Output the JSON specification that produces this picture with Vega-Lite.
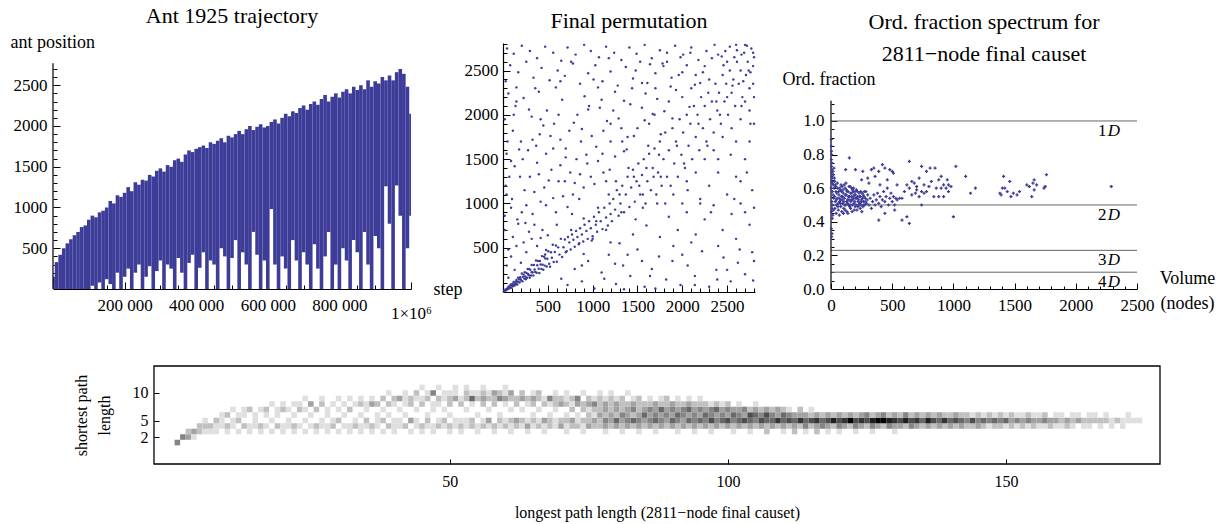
{
"$schema":"https://vega.github.io/schema/vega-lite/v6.json",
"background":"white",
"padding":{"left":10,"top":5,"right":5,"bottom":2},
"config":{
 "font":"Liberation Serif",
 "view":{"stroke":null},
 "axis":{"labelFont":"Liberation Serif","titleFont":"Liberation Serif","labelFontSize":17,"titleFontSize":18,"titleFontWeight":"normal","labelColor":"#000","titleColor":"#000","domainColor":"#000","tickColor":"#000","grid":false,"domainWidth":1.2,"tickWidth":1,"labelOverlap":false,"labelFlush":false,"labelAngle":0},
 "title":{"font":"Liberation Serif","fontSize":22,"fontWeight":"normal","color":"#000"},
 "text":{"font":"Liberation Serif"}
},
"spacing":44,
"vconcat":[
{"spacing":26,"hconcat":[
 {"spacing":2,"hconcat":[
  {
   "title":{"text":"Ant 1925 trajectory","frame":"group","offset":5,"baseline":"top"},
   "width":358,"height":246,
   "encoding":{
     "x":{"field":"s","type":"quantitative","scale":{"domain":[0,1000000],"nice":false},
      "axis":{"values":[50000,100000,150000,200000,250000,300000,350000,400000,450000,500000,550000,600000,650000,700000,750000,800000,850000,900000,950000,1000000],
       "labelOverlap":false,
       "labelExpr":"datum.value % 200000 === 0 ? (datum.value === 1000000 ? '1×10⁶' : replace(format(datum.value, ','), ',', ' ')) : ''",
       "tickSize":{"condition":{"test":"datum.value % 200000 === 0","value":-7},"value":-4},
       "labelPadding":{"condition":{"test":"datum.value === 1000000","value":23},"value":15},
       "title":"step","titleAngle":0,"titleAlign":"left","titleBaseline":"alphabetic","titleX":380,"titleY":5}},
     "y":{"field":"lo","type":"quantitative","scale":{"domain":[0,3018],"nice":false},
      "axis":{"values":[100,200,300,400,500,600,700,800,900,1000,1100,1200,1300,1400,1500,1600,1700,1800,1900,2000,2100,2200,2300,2400,2500,2600,2700],
       "labelOverlap":false,"domain":false,
       "labelExpr":"datum.value % 500 === 0 ? format(datum.value, 'd') : ''",
       "tickSize":{"condition":{"test":"datum.value % 500 === 0","value":-7},"value":-4},
       "labelPadding":13,
       "title":"ant position","titleAngle":0,"titleAlign":"left","titleBaseline":"alphabetic","titleX":-43,"titleY":4}},
     "y2":{"field":"hi"}
   },
   "layer":[
   {"data":{"values":[
{"s":0,"lo":0,"hi":150},{"s":10000,"lo":0,"hi":330},{"s":20000,"lo":0,"hi":420},{"s":30000,"lo":0,"hi":500},{"s":40000,"lo":0,"hi":560},{"s":50000,"lo":0,"hi":610},{"s":60000,"lo":0,"hi":660},{"s":70000,"lo":0,"hi":700},{"s":80000,"lo":0,"hi":760},{"s":90000,"lo":0,"hi":780},
{"s":100000,"lo":0,"hi":850},{"s":110000,"lo":40,"hi":900},{"s":120000,"lo":0,"hi":880},{"s":130000,"lo":80,"hi":940},{"s":140000,"lo":0,"hi":960},{"s":150000,"lo":120,"hi":1000},{"s":160000,"lo":60,"hi":1080},{"s":170000,"lo":0,"hi":1050},{"s":180000,"lo":200,"hi":1150},{"s":190000,"lo":0,"hi":1130},
{"s":200000,"lo":150,"hi":1180},{"s":210000,"lo":250,"hi":1250},{"s":220000,"lo":0,"hi":1200},{"s":230000,"lo":200,"hi":1310},{"s":240000,"lo":300,"hi":1280},{"s":250000,"lo":0,"hi":1340},{"s":260000,"lo":150,"hi":1330},{"s":270000,"lo":280,"hi":1400},{"s":280000,"lo":0,"hi":1380},{"s":290000,"lo":220,"hi":1450},
{"s":300000,"lo":350,"hi":1480},{"s":310000,"lo":0,"hi":1440},{"s":320000,"lo":300,"hi":1520},{"s":330000,"lo":250,"hi":1500},{"s":340000,"lo":0,"hi":1580},{"s":350000,"lo":380,"hi":1600},{"s":360000,"lo":200,"hi":1560},{"s":370000,"lo":0,"hi":1650},{"s":380000,"lo":320,"hi":1700},{"s":390000,"lo":420,"hi":1680},
{"s":400000,"lo":0,"hi":1720},{"s":410000,"lo":260,"hi":1740},{"s":420000,"lo":450,"hi":1760},{"s":430000,"lo":0,"hi":1730},{"s":440000,"lo":350,"hi":1800},{"s":450000,"lo":300,"hi":1780},{"s":460000,"lo":0,"hi":1820},{"s":470000,"lo":500,"hi":1850},{"s":480000,"lo":400,"hi":1800},{"s":490000,"lo":0,"hi":1880},
{"s":500000,"lo":380,"hi":1860},{"s":510000,"lo":600,"hi":1900},{"s":520000,"lo":0,"hi":1940},{"s":530000,"lo":450,"hi":1900},{"s":540000,"lo":300,"hi":1960},{"s":550000,"lo":0,"hi":2000},{"s":560000,"lo":700,"hi":1950},{"s":570000,"lo":420,"hi":1990},{"s":580000,"lo":0,"hi":2020},{"s":590000,"lo":350,"hi":1980},
{"s":600000,"lo":0,"hi":2000},{"s":610000,"lo":980,"hi":2050},{"s":620000,"lo":300,"hi":2080},{"s":630000,"lo":0,"hi":2030},{"s":640000,"lo":400,"hi":2100},{"s":650000,"lo":250,"hi":2150},{"s":660000,"lo":0,"hi":2120},{"s":670000,"lo":600,"hi":2180},{"s":680000,"lo":350,"hi":2160},{"s":690000,"lo":0,"hi":2220},
{"s":700000,"lo":450,"hi":2250},{"s":710000,"lo":300,"hi":2200},{"s":720000,"lo":0,"hi":2270},{"s":730000,"lo":550,"hi":2300},{"s":740000,"lo":250,"hi":2260},{"s":750000,"lo":0,"hi":2330},{"s":760000,"lo":400,"hi":2380},{"s":770000,"lo":700,"hi":2300},{"s":780000,"lo":0,"hi":2360},{"s":790000,"lo":300,"hi":2400},
{"s":800000,"lo":0,"hi":2350},{"s":810000,"lo":500,"hi":2420},{"s":820000,"lo":350,"hi":2450},{"s":830000,"lo":0,"hi":2400},{"s":840000,"lo":600,"hi":2480},{"s":850000,"lo":450,"hi":2440},{"s":860000,"lo":0,"hi":2500},{"s":870000,"lo":700,"hi":2450},{"s":880000,"lo":300,"hi":2560},{"s":890000,"lo":0,"hi":2480},
{"s":900000,"lo":650,"hi":2550},{"s":910000,"lo":500,"hi":2520},{"s":920000,"lo":0,"hi":2600},{"s":930000,"lo":1260,"hi":2560},{"s":940000,"lo":800,"hi":2620},{"s":950000,"lo":0,"hi":2560},{"s":960000,"lo":1270,"hi":2660},{"s":970000,"lo":900,"hi":2700},{"s":980000,"lo":0,"hi":2640},{"s":990000,"lo":500,"hi":2480},
{"s":1000000,"lo":900,"hi":2150}
    ]},
    "mark":{"type":"rule","color":"#3d3d99","strokeWidth":3.6,"clip":true}},
   {"data":{"values":[{"s":0,"lo":0,"hi":2770}]},
    "mark":{"type":"rule","color":"#000","strokeWidth":1.2}}
   ]
  },
  {
   "title":{"text":"Final permutation","frame":"group","offset":2,"baseline":"top"},
   "width":252,"height":249,
   "data":{"values":[
{"x":45,"y":2750},{"x":120,"y":2690},{"x":210,"y":2780},{"x":300,"y":2720},{"x":380,"y":2640},{"x":470,"y":2770},{"x":560,"y":2700},{"x":650,"y":2610},{"x":720,"y":2760},{"x":810,"y":2680},{"x":905,"y":2790},{"x":980,"y":2720},{"x":1070,"y":2650},{"x":1150,"y":2770},{"x":1240,"y":2700},{"x":1320,"y":2620},{"x":1410,"y":2760},{"x":1490,"y":2690},{"x":1580,"y":2790},{"x":1660,"y":2640},{"x":1750,"y":2730},{"x":1830,"y":2600},{"x":1920,"y":2780},{"x":2010,"y":2680},{"x":2100,"y":2760},{"x":2180,"y":2620},{"x":2270,"y":2720},{"x":2360,"y":2790},{"x":2440,"y":2660},{"x":80,"y":2560},{"x":170,"y":2480},{"x":260,"y":2600},{"x":340,"y":2420},{"x":430,"y":2530},{"x":520,"y":2390},{"x":610,"y":2500},{"x":690,"y":2440},{"x":780,"y":2580},{"x":860,"y":2350},{"x":950,"y":2470},{"x":1030,"y":2560},{"x":1110,"y":2380},{"x":1200,"y":2490},{"x":1280,"y":2330},{"x":1370,"y":2540},{"x":1450,"y":2410},{"x":1530,"y":2600},{"x":1610,"y":2360},{"x":1700,"y":2470},{"x":1790,"y":2550},{"x":1870,"y":2320},{"x":1960,"y":2450},{"x":2050,"y":2560},{"x":2140,"y":2340},{"x":2230,"y":2480},{"x":30,"y":2380},{"x":150,"y":2310},{"x":590,"y":2310},{"x":1060,"y":2310},{"x":1640,"y":2570},
{"x":60,"y":2240},{"x":140,"y":2100},{"x":230,"y":2190},{"x":320,"y":1980},{"x":400,"y":2260},{"x":490,"y":2050},{"x":570,"y":1900},{"x":660,"y":2170},{"x":740,"y":1820},{"x":830,"y":2000},{"x":910,"y":2210},{"x":990,"y":1760},{"x":1080,"y":2080},{"x":1160,"y":1930},{"x":1250,"y":2260},{"x":1330,"y":1700},{"x":1420,"y":2120},{"x":1500,"y":1850},{"x":1590,"y":2240},{"x":1670,"y":2010},{"x":1760,"y":1780},{"x":1850,"y":2150},{"x":1930,"y":2280},{"x":20,"y":1950},{"x":110,"y":1820},{"x":200,"y":1700},{"x":290,"y":2060},{"x":370,"y":1650},{"x":450,"y":1880},{"x":530,"y":1760},{"x":620,"y":2000},{"x":700,"y":1620},{"x":790,"y":1910},{"x":870,"y":1700},{"x":950,"y":2060},{"x":1040,"y":1640},{"x":1120,"y":1820},{"x":1200,"y":1700},{"x":1290,"y":1960},{"x":1380,"y":1610},{"x":1460,"y":1760},{"x":1550,"y":2080},{"x":1630,"y":1900},{"x":1720,"y":2180},{"x":1800,"y":2040},{"x":1890,"y":1960},{"x":2000,"y":2200},{"x":2080,"y":2090},{"x":50,"y":1700},{"x":180,"y":1610},{"x":410,"y":1780},{"x":640,"y":1720},{"x":880,"y":1840},{"x":1100,"y":2170},{"x":1320,"y":1850},
{"x":40,"y":1560},{"x":130,"y":1420},{"x":220,"y":1500},{"x":300,"y":1300},{"x":380,"y":1460},{"x":460,"y":1180},{"x":540,"y":1380},{"x":620,"y":1250},{"x":700,"y":1520},{"x":780,"y":1100},{"x":860,"y":1330},{"x":940,"y":1450},{"x":1020,"y":1220},{"x":1110,"y":1560},{"x":1190,"y":1380},{"x":30,"y":1200},{"x":100,"y":1050},{"x":190,"y":1300},{"x":260,"y":980},{"x":350,"y":1130},{"x":420,"y":1020},{"x":510,"y":1260},{"x":590,"y":900},{"x":670,"y":1080},{"x":750,"y":1350},{"x":820,"y":1500},{"x":900,"y":1180},{"x":980,"y":1300},{"x":1060,"y":1480},{"x":20,"y":860},{"x":90,"y":950},{"x":160,"y":820},{"x":240,"y":1150},{"x":330,"y":880},{"x":400,"y":1330},{"x":480,"y":1560},{"x":560,"y":1060},{"x":640,"y":1430},{"x":720,"y":960},{"x":800,"y":1230},{"x":1150,"y":1250},{"x":1250,"y":1530},{"x":1350,"y":1590},{"x":70,"y":1300},{"x":280,"y":1600},
{"x":20,"y":700},{"x":60,"y":480},{"x":110,"y":620},{"x":170,"y":770},{"x":230,"y":560},{"x":290,"y":680},{"x":350,"y":760},{"x":40,"y":300},{"x":90,"y":400},{"x":150,"y":520},{"x":200,"y":330},{"x":260,"y":450},{"x":320,"y":600},{"x":380,"y":520},{"x":440,"y":700},{"x":500,"y":640},{"x":130,"y":250},{"x":60,"y":160},{"x":250,"y":780},{"x":420,"y":610},
{"x":650,"y":150},{"x":720,"y":80},{"x":800,"y":260},{"x":880,"y":120},{"x":950,"y":350},{"x":1020,"y":40},{"x":1100,"y":220},{"x":1180,"y":420},{"x":1260,"y":90},{"x":1340,"y":300},{"x":1420,"y":180},{"x":1500,"y":480},{"x":1580,"y":60},{"x":1660,"y":260},{"x":1740,"y":400},{"x":1820,"y":140},{"x":1900,"y":520},{"x":1980,"y":80},{"x":2060,"y":300},{"x":2140,"y":180},{"x":2220,"y":460},{"x":2300,"y":60},{"x":2380,"y":250},{"x":2460,"y":390},{"x":2540,"y":120},{"x":2620,"y":330},{"x":2700,"y":200},{"x":2780,"y":450},{"x":1000,"y":600},{"x":1150,"y":700},{"x":1300,"y":550},{"x":1450,"y":650},{"x":1600,"y":750},{"x":1750,"y":620},{"x":1850,"y":850},{"x":1950,"y":700},{"x":2050,"y":900},{"x":2150,"y":650},{"x":2250,"y":820},{"x":2350,"y":980},{"x":2450,"y":700},{"x":2550,"y":880},{"x":2650,"y":1000},{"x":2750,"y":760},{"x":1700,"y":40},{"x":2000,"y":420},{"x":2400,"y":520},{"x":2600,"y":600},{"x":2800,"y":350},{"x":900,"y":430},{"x":1250,"y":320},{"x":1550,"y":350},{"x":2100,"y":560},{"x":2700,"y":900},{"x":2500,"y":1100},{"x":2300,"y":1200},{"x":2600,"y":1300},{"x":2780,"y":1150},{"x":2200,"y":1050},{"x":2400,"y":1350},{"x":2700,"y":1500},{"x":2750,"y":1700},{"x":2650,"y":1250},{"x":2000,"y":1000},{"x":1900,"y":1100},{"x":2200,"y":1000},{"x":2800,"y":950},{"x":2500,"y":250},{"x":1350,"y":30},{"x":850,"y":550},
{"x":10,"y":9},{"x":18,"y":11},{"x":25,"y":20},{"x":30,"y":28},{"x":38,"y":21},{"x":45,"y":32},{"x":50,"y":42},{"x":58,"y":36},{"x":62,"y":62},{"x":70,"y":41},{"x":75,"y":60},{"x":80,"y":54},{"x":88,"y":81},{"x":95,"y":49},{"x":100,"y":74},{"x":105,"y":92},{"x":112,"y":67},{"x":118,"y":114},{"x":125,"y":88},{"x":130,"y":73},{"x":138,"y":115},{"x":142,"y":92},{"x":150,"y":135},{"x":155,"y":116},{"x":160,"y":85},{"x":168,"y":160},{"x":172,"y":117},{"x":180,"y":144},{"x":185,"y":107},{"x":192,"y":167},{"x":198,"y":143},{"x":205,"y":127},{"x":210,"y":208},{"x":218,"y":120},{"x":222,"y":171},{"x":230,"y":196},{"x":238,"y":152},{"x":242,"y":223},{"x":250,"y":175},{"x":255,"y":145},{"x":262,"y":215},{"x":268,"y":161},{"x":275,"y":259},{"x":280,"y":204},{"x":288,"y":190},{"x":292,"y":260},{"x":298,"y":161},{"x":35,"y":27},{"x":85,"y":82},{"x":145,"y":88},
{"x":305,"y":250},{"x":312,"y":187},{"x":320,"y":304},{"x":330,"y":224},{"x":338,"y":186},{"x":345,"y":304},{"x":352,"y":253},{"x":360,"y":227},{"x":368,"y":357},{"x":375,"y":218},{"x":382,"y":302},{"x":390,"y":351},{"x":398,"y":263},{"x":405,"y":215},{"x":412,"y":350},{"x":420,"y":311},{"x":428,"y":261},{"x":435,"y":405},{"x":442,"y":309},{"x":450,"y":252},{"x":458,"y":398},{"x":465,"y":298},{"x":472,"y":378},{"x":480,"y":475},{"x":488,"y":288},{"x":495,"y":376},{"x":505,"y":460},{"x":515,"y":319},{"x":525,"y":284},{"x":535,"y":449},{"x":545,"y":387},{"x":555,"y":533},{"x":565,"y":339},{"x":578,"y":451},{"x":590,"y":525},{"x":600,"y":342},{"x":615,"y":504},{"x":630,"y":422},{"x":645,"y":600},{"x":660,"y":396},{"x":675,"y":506},{"x":690,"y":593},{"x":700,"y":448},{"x":320,"y":224},{"x":470,"y":423},
{"x":710,"y":460},{"x":725,"y":620},{"x":740,"y":560},{"x":755,"y":480},{"x":770,"y":650},{"x":785,"y":590},{"x":800,"y":510},{"x":815,"y":690},{"x":830,"y":620},{"x":845,"y":540},{"x":860,"y":720},{"x":880,"y":650},{"x":895,"y":570},{"x":910,"y":760},{"x":930,"y":690},{"x":945,"y":600},{"x":960,"y":800},{"x":980,"y":720},{"x":1000,"y":630},{"x":1015,"y":850},{"x":1035,"y":760},{"x":1050,"y":680},{"x":1070,"y":900},{"x":1090,"y":800},{"x":1110,"y":710},{"x":1130,"y":950},{"x":1150,"y":840},{"x":1170,"y":750},{"x":1190,"y":1000},{"x":1200,"y":880},{"x":760,"y":700},{"x":900,"y":830},{"x":1060,"y":950},{"x":1180,"y":1100},{"x":990,"y":580},
{"x":1215,"y":800},{"x":1230,"y":1050},{"x":1250,"y":930},{"x":1270,"y":1150},{"x":1290,"y":860},{"x":1310,"y":1000},{"x":1330,"y":1200},{"x":1350,"y":900},{"x":1370,"y":1100},{"x":1390,"y":1300},{"x":1410,"y":960},{"x":1430,"y":1180},{"x":1450,"y":1380},{"x":1470,"y":1020},{"x":1490,"y":1250},{"x":1510,"y":1450},{"x":1530,"y":1100},{"x":1550,"y":1320},{"x":1570,"y":1500},{"x":1590,"y":1000},{"x":1610,"y":1250},{"x":1630,"y":1560},{"x":1650,"y":1150},{"x":1670,"y":1400},{"x":1690,"y":1620},{"x":1710,"y":1100},{"x":1730,"y":1350},{"x":1750,"y":1700},{"x":1770,"y":1200},{"x":1790,"y":1500},{"x":1260,"y":1250},{"x":1400,"y":1400},{"x":1520,"y":1200},{"x":1600,"y":1400},{"x":1680,"y":1300},{"x":1740,"y":1550},{"x":1300,"y":1100},{"x":1460,"y":1300},{"x":1560,"y":950},{"x":1720,"y":1000},
{"x":1810,"y":1800},{"x":1830,"y":1300},{"x":1850,"y":1600},{"x":1870,"y":1200},{"x":1890,"y":1850},{"x":1910,"y":1450},{"x":1930,"y":1700},{"x":1950,"y":1300},{"x":1970,"y":1950},{"x":1990,"y":1550},{"x":2010,"y":1800},{"x":2030,"y":1400},{"x":2050,"y":2000},{"x":2070,"y":1650},{"x":2090,"y":1900},{"x":2110,"y":1500},{"x":2130,"y":2100},{"x":2150,"y":1750},{"x":2170,"y":2000},{"x":2190,"y":1600},{"x":2210,"y":2200},{"x":2230,"y":1850},{"x":2250,"y":2100},{"x":2270,"y":1700},{"x":2290,"y":2250},{"x":2310,"y":1950},{"x":2330,"y":2150},{"x":2350,"y":1800},{"x":2370,"y":2350},{"x":2390,"y":2050},{"x":2410,"y":2250},{"x":2430,"y":1900},{"x":2450,"y":2450},{"x":2470,"y":2150},{"x":2490,"y":2350},{"x":2510,"y":2000},{"x":2530,"y":2500},{"x":2550,"y":2250},{"x":2570,"y":2400},{"x":2590,"y":2100},{"x":2610,"y":2600},{"x":2630,"y":2350},{"x":2650,"y":2500},{"x":2670,"y":2200},{"x":2690,"y":2700},{"x":2710,"y":2450},{"x":2730,"y":2600},{"x":2750,"y":2300},{"x":2770,"y":2750},{"x":2790,"y":2550},{"x":2800,"y":2650},{"x":2720,"y":2780},{"x":2660,"y":2680},{"x":2580,"y":2650},{"x":2760,"y":2480},
{"x":2050,"y":1250},{"x":2150,"y":1350},{"x":2250,"y":1500},{"x":2350,"y":1600},{"x":2450,"y":1750},{"x":2550,"y":1850},{"x":2650,"y":1950},{"x":2750,"y":2050},{"x":2800,"y":2200},{"x":2100,"y":2300},{"x":2300,"y":2400},{"x":2500,"y":2600},{"x":2700,"y":2150},{"x":2400,"y":1500},{"x":2600,"y":1700},{"x":2800,"y":1900},{"x":2530,"y":2770},{"x":2610,"y":2730},{"x":2700,"y":2790},{"x":2790,"y":2700},
{"x":150,"y":2150},{"x":420,"y":1950},{"x":760,"y":2600},{"x":1010,"y":2400},{"x":1230,"y":2050},{"x":1480,"y":2500},{"x":1700,"y":2300},{"x":1980,"y":2650},{"x":2250,"y":2550},{"x":2480,"y":2720},{"x":90,"y":1480},{"x":330,"y":1720},{"x":560,"y":1620},{"x":850,"y":1050},{"x":1120,"y":1350},{"x":1390,"y":1750},{"x":1620,"y":1650},{"x":1880,"y":2420},{"x":2150,"y":2450},{"x":2380,"y":2150},{"x":40,"y":1100},{"x":210,"y":900},{"x":480,"y":980},{"x":690,"y":1250},{"x":930,"y":1550},{"x":1200,"y":1900},{"x":1440,"y":2300},{"x":1690,"y":2000},{"x":1940,"y":1650},{"x":2180,"y":1900},{"x":2420,"y":2000},{"x":2660,"y":2100},{"x":2790,"y":2350},{"x":600,"y":760},{"x":770,"y":880},{"x":1040,"y":800},{"x":1320,"y":900},{"x":1560,"y":1100},{"x":1810,"y":1000},{"x":2060,"y":1150},{"x":2320,"y":900},{"x":2580,"y":1050},{"x":2720,"y":1350},{"x":880,"y":300},{"x":1130,"y":150},{"x":1390,"y":420},{"x":1640,"y":180},{"x":1890,"y":350},{"x":2140,"y":80},{"x":2390,"y":140},{"x":2640,"y":480},{"x":2790,"y":130},{"x":1200,"y":560},{"x":1480,"y":820},{"x":1760,"y":1300},{"x":2020,"y":1450},{"x":2280,"y":1650},{"x":2540,"y":1550},{"x":2760,"y":1900},{"x":2460,"y":2560},{"x":120,"y":2000},{"x":360,"y":2300},{"x":640,"y":2380},{"x":960,"y":2100},{"x":1180,"y":2640},{"x":1350,"y":2160},{"x":1580,"y":1940},{"x":1830,"y":2700},{"x":2090,"y":2700},{"x":2330,"y":2640},{"x":2560,"y":2330},{"x":2740,"y":2500},{"x":2600,"y":2790},{"x":2680,"y":2380},{"x":2500,"y":2200},{"x":2400,"y":2680},{"x":2200,"y":2360},{"x":2000,"y":2480},{"x":1780,"y":2580},{"x":1550,"y":2360}
   ]},
   "mark":{"type":"circle","size":6,"color":"#3d3d99","opacity":1},
   "encoding":{
    "x":{"field":"x","type":"quantitative","scale":{"domain":[0,2811],"nice":false},
     "axis":{"values":[100,200,300,400,500,600,700,800,900,1000,1100,1200,1300,1400,1500,1600,1700,1800,1900,2000,2100,2200,2300,2400,2500,2600,2700,2800],
      "labelOverlap":false,
      "labelExpr":"datum.value % 500 === 0 ? format(datum.value, 'd') : ''",
      "tickSize":{"condition":{"test":"datum.value % 500 === 0","value":-7},"value":-4},
      "labelPadding":13,"title":null}},
    "y":{"field":"y","type":"quantitative","scale":{"domain":[0,2811],"nice":false},
     "axis":{"values":[100,200,300,400,500,600,700,800,900,1000,1100,1200,1300,1400,1500,1600,1700,1800,1900,2000,2100,2200,2300,2400,2500,2600,2700,2800],
      "labelOverlap":false,
      "labelExpr":"datum.value % 500 === 0 ? format(datum.value, 'd') : ''",
      "tickSize":{"condition":{"test":"datum.value % 500 === 0","value":-7},"value":-4},
      "labelPadding":12,"title":null}}
   }
  }
 ]},
 {
  "title":{"text":["Ord. fraction spectrum for","2811−node final causet"],"frame":"group","offset":-23,"baseline":"top","lineHeight":32},
  "width":306,"height":246,
  "encoding":{
    "x":{"field":"x","type":"quantitative","scale":{"domain":[0,2500],"nice":false},
     "axis":{"values":[0,100,200,300,400,500,600,700,800,900,1000,1100,1200,1300,1400,1500,1600,1700,1800,1900,2000,2100,2200,2300,2400,2500],
      "labelOverlap":false,
      "labelExpr":"datum.value % 500 === 0 ? format(datum.value, 'd') : ''",
      "tickSize":{"condition":{"test":"datum.value % 500 === 0","value":-6},"value":-3},
      "labelPadding":14,
      "title":["Volume","(nodes)"],"titleAngle":0,"titleAlign":"center","titleBaseline":"alphabetic","titleX":356,"titleY":-6,"titleLineHeight":25}},
    "y":{"field":"y","type":"quantitative","scale":{"domain":[0,1.464],"nice":false,"zero":true},
     "axis":{"values":[0,0.05,0.1,0.15,0.2,0.25,0.3,0.35,0.4,0.45,0.5,0.55,0.6,0.65,0.7,0.75,0.8,0.85,0.9,0.95,1,1.05,1.1],
      "labelOverlap":false,"domain":false,
      "labelExpr":"abs(datum.value*5 - round(datum.value*5)) < 0.001 ? format(datum.value, '.1f') : ''",
      "tickSize":{"condition":{"test":"abs(datum.value*5 - round(datum.value*5)) < 0.001","value":-6},"value":-3},
      "labelPadding":13,
      "title":"Ord. fraction","titleAngle":0,"titleAlign":"left","titleBaseline":"alphabetic","titleX":-49,"titleY":41}}
  },
  "layer":[
   {"data":{"values":[{"y":1,"n":"1","x":0,"xe":2500},{"y":0.5,"n":"2","x":0,"xe":2500},{"y":0.23,"n":"3","x":0,"xe":2500},{"y":0.1,"n":"4","x":0,"xe":2500}]},
    "layer":[
     {"mark":{"type":"rule","color":"#666","strokeWidth":1},"encoding":{"x2":{"field":"xe"}}},
     {"mark":{"type":"text","align":"right","baseline":"top","dy":2,"fontSize":17,"color":"#000"},
      "encoding":{"text":{"field":"n"},
       "x":{"datum":2250,"type":"quantitative",
        "axis":{"values":[0,100,200,300,400,500,600,700,800,900,1000,1100,1200,1300,1400,1500,1600,1700,1800,1900,2000,2100,2200,2300,2400,2500],
         "labelOverlap":false,
         "labelExpr":"datum.value % 500 === 0 ? format(datum.value, 'd') : ''",
         "tickSize":{"condition":{"test":"datum.value % 500 === 0","value":-6},"value":-3},
         "labelPadding":14,
         "title":["Volume","(nodes)"],"titleAngle":0,"titleAlign":"center","titleBaseline":"alphabetic","titleX":356,"titleY":-6,"titleLineHeight":25}}}},
     {"mark":{"type":"text","align":"left","baseline":"top","dy":2,"fontSize":17,"fontStyle":"italic","color":"#000"},
      "encoding":{"text":{"value":"D"},
       "x":{"datum":2262,"type":"quantitative",
        "axis":{"values":[0,100,200,300,400,500,600,700,800,900,1000,1100,1200,1300,1400,1500,1600,1700,1800,1900,2000,2100,2200,2300,2400,2500],
         "labelOverlap":false,
         "labelExpr":"datum.value % 500 === 0 ? format(datum.value, 'd') : ''",
         "tickSize":{"condition":{"test":"datum.value % 500 === 0","value":-6},"value":-3},
         "labelPadding":14,
         "title":["Volume","(nodes)"],"titleAngle":0,"titleAlign":"center","titleBaseline":"alphabetic","titleX":356,"titleY":-6,"titleLineHeight":25}}}}
    ]},
   {"data":{"values":[{"x":0,"y":0,"yt":1.12}]},
    "mark":{"type":"rule","color":"#000","strokeWidth":1.2},
    "encoding":{"y2":{"field":"yt"}}},
   {"data":{"values":[
{"x":2,"y":0.89},{"x":3,"y":0.85},{"x":4,"y":0.82},{"x":5,"y":0.8},{"x":3,"y":0.77},{"x":6,"y":0.75},{"x":4,"y":0.73},{"x":8,"y":0.71},{"x":5,"y":0.69},{"x":7,"y":0.67},{"x":10,"y":0.66},{"x":6,"y":0.64},{"x":12,"y":0.63},{"x":3,"y":0.36},{"x":8,"y":0.33},{"x":5,"y":0.31},{"x":10,"y":0.42},{"x":15,"y":0.44},{"x":4,"y":0.46},{"x":9,"y":0.48},{"x":20,"y":0.68},{"x":14,"y":0.7},{"x":18,"y":0.62},{"x":25,"y":0.6},{"x":11,"y":0.58},{"x":16,"y":0.56},{"x":22,"y":0.54},{"x":7,"y":0.52},{"x":13,"y":0.5},{"x":19,"y":0.47},{"x":28,"y":0.66},{"x":30,"y":0.64},{"x":35,"y":0.62},{"x":2,"y":0.6},{"x":24,"y":0.72},
{"x":30,"y":0.55},{"x":35,"y":0.52},{"x":40,"y":0.58},{"x":45,"y":0.5},{"x":50,"y":0.54},{"x":55,"y":0.6},{"x":60,"y":0.47},{"x":65,"y":0.56},{"x":70,"y":0.52},{"x":75,"y":0.59},{"x":80,"y":0.49},{"x":85,"y":0.55},{"x":90,"y":0.61},{"x":95,"y":0.51},{"x":100,"y":0.57},{"x":105,"y":0.48},{"x":110,"y":0.54},{"x":115,"y":0.6},{"x":120,"y":0.5},{"x":125,"y":0.56},{"x":130,"y":0.46},{"x":135,"y":0.53},{"x":140,"y":0.58},{"x":145,"y":0.5},{"x":150,"y":0.55},{"x":155,"y":0.61},{"x":160,"y":0.48},{"x":165,"y":0.53},{"x":170,"y":0.57},{"x":175,"y":0.5},{"x":180,"y":0.55},{"x":185,"y":0.6},{"x":190,"y":0.47},{"x":195,"y":0.52},{"x":200,"y":0.56},{"x":205,"y":0.5},{"x":210,"y":0.54},{"x":215,"y":0.58},{"x":220,"y":0.49},{"x":225,"y":0.53},{"x":230,"y":0.57},{"x":235,"y":0.51},{"x":240,"y":0.55},{"x":245,"y":0.5},{"x":250,"y":0.53},{"x":255,"y":0.57},{"x":260,"y":0.49},{"x":265,"y":0.52},{"x":270,"y":0.55},{"x":275,"y":0.5},{"x":280,"y":0.54},{"x":285,"y":0.58},{"x":290,"y":0.51},{"x":295,"y":0.53},{"x":300,"y":0.56},
{"x":32,"y":0.48},{"x":38,"y":0.61},{"x":42,"y":0.45},{"x":48,"y":0.57},{"x":52,"y":0.63},{"x":58,"y":0.51},{"x":62,"y":0.58},{"x":68,"y":0.44},{"x":72,"y":0.6},{"x":78,"y":0.53},{"x":82,"y":0.62},{"x":88,"y":0.46},{"x":92,"y":0.53},{"x":98,"y":0.59},{"x":102,"y":0.45},{"x":108,"y":0.62},{"x":112,"y":0.5},{"x":118,"y":0.56},{"x":122,"y":0.63},{"x":128,"y":0.52},{"x":132,"y":0.58},{"x":138,"y":0.45},{"x":142,"y":0.55},{"x":148,"y":0.61},{"x":152,"y":0.49},{"x":158,"y":0.57},{"x":162,"y":0.52},{"x":168,"y":0.6},{"x":172,"y":0.46},{"x":178,"y":0.53},{"x":182,"y":0.58},{"x":188,"y":0.51},{"x":192,"y":0.56},{"x":198,"y":0.49},{"x":202,"y":0.54},{"x":208,"y":0.59},{"x":212,"y":0.47},{"x":218,"y":0.55},{"x":222,"y":0.52},{"x":228,"y":0.5},{"x":232,"y":0.55},{"x":238,"y":0.48},{"x":242,"y":0.58},{"x":248,"y":0.52},{"x":252,"y":0.46},{"x":258,"y":0.54},{"x":262,"y":0.56},{"x":268,"y":0.5},{"x":272,"y":0.58},{"x":278,"y":0.52},{"x":44,"y":0.53},{"x":56,"y":0.49},{"x":66,"y":0.54},{"x":76,"y":0.51},{"x":86,"y":0.58},{"x":96,"y":0.55},{"x":106,"y":0.52},{"x":116,"y":0.47},{"x":126,"y":0.59},{"x":136,"y":0.51},{"x":146,"y":0.53},{"x":156,"y":0.5},{"x":166,"y":0.55},{"x":176,"y":0.59},{"x":186,"y":0.54},{"x":196,"y":0.58},
{"x":310,"y":0.5},{"x":320,"y":0.54},{"x":330,"y":0.48},{"x":340,"y":0.52},{"x":350,"y":0.56},{"x":360,"y":0.5},{"x":370,"y":0.53},{"x":380,"y":0.57},{"x":390,"y":0.51},{"x":400,"y":0.55},{"x":410,"y":0.49},{"x":420,"y":0.53},{"x":430,"y":0.58},{"x":440,"y":0.52},{"x":450,"y":0.55},{"x":460,"y":0.6},{"x":470,"y":0.5},{"x":480,"y":0.54},{"x":490,"y":0.57},{"x":500,"y":0.52},{"x":510,"y":0.55},{"x":520,"y":0.5},{"x":530,"y":0.54},{"x":540,"y":0.53},{"x":560,"y":0.54},{"x":580,"y":0.54},{"x":330,"y":0.71},{"x":350,"y":0.72},{"x":390,"y":0.7},{"x":420,"y":0.74},{"x":440,"y":0.72},{"x":480,"y":0.71},{"x":500,"y":0.7},{"x":510,"y":0.69},{"x":300,"y":0.66},{"x":360,"y":0.67},{"x":440,"y":0.45},{"x":390,"y":0.41},{"x":520,"y":0.47},{"x":580,"y":0.41},{"x":620,"y":0.43},{"x":640,"y":0.39},{"x":150,"y":0.78},{"x":120,"y":0.71},{"x":200,"y":0.71},{"x":260,"y":0.7},{"x":310,"y":0.63},{"x":250,"y":0.65},{"x":540,"y":0.62},{"x":460,"y":0.65},{"x":400,"y":0.62},
{"x":600,"y":0.58},{"x":620,"y":0.62},{"x":640,"y":0.6},{"x":660,"y":0.56},{"x":680,"y":0.63},{"x":700,"y":0.59},{"x":720,"y":0.55},{"x":740,"y":0.58},{"x":760,"y":0.57},{"x":640,"y":0.76},{"x":700,"y":0.61},{"x":720,"y":0.66},{"x":760,"y":0.62},{"x":780,"y":0.58},{"x":800,"y":0.61},{"x":820,"y":0.64},{"x":840,"y":0.55},{"x":860,"y":0.6},{"x":880,"y":0.65},{"x":900,"y":0.6},{"x":920,"y":0.62},{"x":940,"y":0.6},{"x":960,"y":0.58},{"x":980,"y":0.61},{"x":740,"y":0.5},{"x":810,"y":0.72},{"x":850,"y":0.72},{"x":900,"y":0.67},{"x":950,"y":0.65},{"x":740,"y":0.73},{"x":880,"y":0.55},{"x":920,"y":0.55},{"x":960,"y":0.62},{"x":1000,"y":0.43},{"x":1020,"y":0.73},{"x":660,"y":0.64},{"x":780,"y":0.7},{"x":690,"y":0.57},
{"x":1100,"y":0.67},{"x":1140,"y":0.57},{"x":1180,"y":0.6},{"x":1380,"y":0.57},{"x":1390,"y":0.56},{"x":1400,"y":0.6},{"x":1410,"y":0.67},{"x":1440,"y":0.58},{"x":1460,"y":0.64},{"x":1470,"y":0.55},{"x":1490,"y":0.57},{"x":1540,"y":0.58},{"x":1600,"y":0.62},{"x":1620,"y":0.61},{"x":1640,"y":0.55},{"x":1650,"y":0.63},{"x":1660,"y":0.65},{"x":1660,"y":0.59},{"x":1740,"y":0.6},{"x":1750,"y":0.61},{"x":1760,"y":0.68},{"x":1680,"y":0.62},{"x":1420,"y":0.6},{"x":1520,"y":0.56},{"x":2290,"y":0.61}
   ]},
   "mark":{"type":"point","shape":"cross","filled":true,"size":10,"color":"#3d3d99","opacity":1}}
  ]
 }
]},
{
 "width":1107,"height":98,
 "layer":[
  {"data":{"values":[
{"x":1,"y":1,"v":4},{"x":2,"y":2,"v":4},{"x":3,"y":2,"v":3},{"x":3,"y":3,"v":2},{"x":4,"y":3,"v":3},{"x":4,"y":2,"v":1},{"x":5,"y":3,"v":2},{"x":5,"y":4,"v":2},{"x":6,"y":3,"v":1},{"x":6,"y":4,"v":2},{"x":6,"y":5,"v":1},{"x":7,"y":4,"v":2},{"x":7,"y":3,"v":1},{"x":8,"y":4,"v":1},{"x":8,"y":5,"v":2},{"x":8,"y":3,"v":1},{"x":9,"y":4,"v":1},{"x":9,"y":6,"v":1},{"x":9,"y":5,"v":1},{"x":10,"y":3,"v":1},{"x":10,"y":4,"v":2},{"x":10,"y":6,"v":2},
{"x":11,"y":4,"v":1},{"x":11,"y":5,"v":1},{"x":11,"y":7,"v":1},{"x":12,"y":3,"v":1},{"x":12,"y":5,"v":2},{"x":12,"y":6,"v":1},{"x":13,"y":4,"v":2},{"x":13,"y":6,"v":1},{"x":13,"y":7,"v":1},{"x":14,"y":3,"v":1},{"x":14,"y":4,"v":1},{"x":14,"y":7,"v":2},{"x":15,"y":4,"v":1},{"x":15,"y":5,"v":1},{"x":15,"y":6,"v":1},{"x":16,"y":3,"v":1},{"x":16,"y":4,"v":2},{"x":16,"y":7,"v":1},{"x":17,"y":4,"v":1},{"x":17,"y":6,"v":1},{"x":17,"y":7,"v":2},{"x":18,"y":3,"v":1},{"x":18,"y":5,"v":1},{"x":18,"y":8,"v":1},{"x":19,"y":4,"v":2},{"x":19,"y":6,"v":1},{"x":19,"y":7,"v":1},{"x":20,"y":3,"v":1},{"x":20,"y":4,"v":1},{"x":20,"y":7,"v":2},{"x":20,"y":8,"v":1},
{"x":21,"y":4,"v":1},{"x":21,"y":5,"v":1},{"x":21,"y":7,"v":1},{"x":22,"y":3,"v":1},{"x":22,"y":4,"v":2},{"x":22,"y":6,"v":1},{"x":22,"y":8,"v":1},{"x":23,"y":4,"v":1},{"x":23,"y":7,"v":2},{"x":23,"y":8,"v":1},{"x":24,"y":3,"v":1},{"x":24,"y":5,"v":1},{"x":24,"y":7,"v":1},{"x":24,"y":9,"v":1},{"x":25,"y":4,"v":1},{"x":25,"y":6,"v":1},{"x":25,"y":8,"v":3},{"x":26,"y":3,"v":1},{"x":26,"y":4,"v":2},{"x":26,"y":7,"v":2},{"x":27,"y":4,"v":1},{"x":27,"y":5,"v":1},{"x":27,"y":8,"v":2},{"x":27,"y":9,"v":1},{"x":28,"y":3,"v":1},{"x":28,"y":4,"v":1},{"x":28,"y":6,"v":1},{"x":28,"y":7,"v":1},{"x":29,"y":4,"v":2},{"x":29,"y":5,"v":1},{"x":29,"y":8,"v":1},{"x":30,"y":3,"v":1},{"x":30,"y":5,"v":2},{"x":30,"y":7,"v":1},{"x":30,"y":9,"v":1},
{"x":31,"y":4,"v":1},{"x":31,"y":6,"v":1},{"x":31,"y":8,"v":1},{"x":32,"y":3,"v":1},{"x":32,"y":4,"v":1},{"x":32,"y":7,"v":2},{"x":32,"y":9,"v":1},{"x":33,"y":4,"v":2},{"x":33,"y":5,"v":1},{"x":33,"y":8,"v":1},{"x":34,"y":3,"v":1},{"x":34,"y":4,"v":1},{"x":34,"y":6,"v":1},{"x":34,"y":8,"v":2},{"x":34,"y":9,"v":1},{"x":35,"y":4,"v":1},{"x":35,"y":5,"v":2},{"x":35,"y":7,"v":1},{"x":35,"y":8,"v":1},{"x":36,"y":3,"v":1},{"x":36,"y":4,"v":2},{"x":36,"y":8,"v":3},{"x":36,"y":9,"v":1},{"x":37,"y":4,"v":1},{"x":37,"y":5,"v":1},{"x":37,"y":6,"v":1},{"x":37,"y":8,"v":2},{"x":38,"y":3,"v":1},{"x":38,"y":5,"v":2},{"x":38,"y":7,"v":1},{"x":38,"y":9,"v":2},{"x":39,"y":4,"v":2},{"x":39,"y":6,"v":1},{"x":39,"y":8,"v":2},{"x":39,"y":10,"v":1},{"x":40,"y":3,"v":1},{"x":40,"y":4,"v":1},{"x":40,"y":5,"v":1},{"x":40,"y":8,"v":1},{"x":40,"y":9,"v":2},
{"x":41,"y":4,"v":1},{"x":41,"y":5,"v":1},{"x":41,"y":7,"v":1},{"x":41,"y":9,"v":3},{"x":42,"y":4,"v":2},{"x":42,"y":6,"v":1},{"x":42,"y":8,"v":1},{"x":42,"y":9,"v":1},{"x":42,"y":10,"v":1},{"x":43,"y":3,"v":1},{"x":43,"y":5,"v":3},{"x":43,"y":8,"v":2},{"x":43,"y":9,"v":2},{"x":44,"y":4,"v":1},{"x":44,"y":5,"v":1},{"x":44,"y":7,"v":1},{"x":44,"y":9,"v":1},{"x":44,"y":10,"v":2},{"x":45,"y":3,"v":1},{"x":45,"y":4,"v":2},{"x":45,"y":8,"v":2},{"x":45,"y":9,"v":1},{"x":45,"y":11,"v":1},{"x":46,"y":4,"v":1},{"x":46,"y":5,"v":2},{"x":46,"y":6,"v":1},{"x":46,"y":9,"v":2},{"x":46,"y":10,"v":1},{"x":47,"y":3,"v":1},{"x":47,"y":4,"v":1},{"x":47,"y":7,"v":1},{"x":47,"y":8,"v":1},{"x":47,"y":10,"v":4},{"x":48,"y":4,"v":2},{"x":48,"y":5,"v":1},{"x":48,"y":8,"v":1},{"x":48,"y":9,"v":2},{"x":48,"y":11,"v":1},{"x":49,"y":4,"v":1},{"x":49,"y":5,"v":2},{"x":49,"y":7,"v":1},{"x":49,"y":9,"v":1},{"x":49,"y":10,"v":1},{"x":50,"y":3,"v":1},{"x":50,"y":4,"v":2},{"x":50,"y":6,"v":1},{"x":50,"y":8,"v":2},{"x":50,"y":9,"v":2},{"x":50,"y":10,"v":1},
{"x":51,"y":4,"v":1},{"x":51,"y":5,"v":1},{"x":51,"y":9,"v":3},{"x":51,"y":10,"v":1},{"x":51,"y":11,"v":1},{"x":52,"y":3,"v":1},{"x":52,"y":4,"v":2},{"x":52,"y":5,"v":1},{"x":52,"y":8,"v":2},{"x":52,"y":9,"v":1},{"x":53,"y":4,"v":1},{"x":53,"y":5,"v":1},{"x":53,"y":7,"v":1},{"x":53,"y":9,"v":2},{"x":53,"y":10,"v":2},{"x":53,"y":11,"v":1},{"x":54,"y":4,"v":2},{"x":54,"y":5,"v":2},{"x":54,"y":8,"v":1},{"x":54,"y":9,"v":5},{"x":54,"y":10,"v":1},{"x":55,"y":3,"v":1},{"x":55,"y":4,"v":1},{"x":55,"y":6,"v":1},{"x":55,"y":9,"v":2},{"x":55,"y":10,"v":1},{"x":56,"y":4,"v":2},{"x":56,"y":5,"v":1},{"x":56,"y":8,"v":2},{"x":56,"y":9,"v":3},{"x":56,"y":10,"v":2},{"x":56,"y":11,"v":1},{"x":57,"y":4,"v":1},{"x":57,"y":5,"v":3},{"x":57,"y":7,"v":1},{"x":57,"y":9,"v":2},{"x":57,"y":10,"v":1},{"x":58,"y":3,"v":1},{"x":58,"y":4,"v":2},{"x":58,"y":8,"v":2},{"x":58,"y":9,"v":2},{"x":58,"y":10,"v":3},{"x":59,"y":4,"v":1},{"x":59,"y":5,"v":2},{"x":59,"y":6,"v":1},{"x":59,"y":9,"v":4},{"x":59,"y":10,"v":2},{"x":60,"y":4,"v":2},{"x":60,"y":5,"v":1},{"x":60,"y":8,"v":1},{"x":60,"y":9,"v":3},{"x":60,"y":10,"v":1},{"x":60,"y":11,"v":1},
{"x":61,"y":3,"v":1},{"x":61,"y":4,"v":1},{"x":61,"y":5,"v":2},{"x":61,"y":7,"v":1},{"x":61,"y":9,"v":2},{"x":61,"y":10,"v":3},{"x":62,"y":4,"v":2},{"x":62,"y":5,"v":3},{"x":62,"y":8,"v":2},{"x":62,"y":9,"v":2},{"x":63,"y":4,"v":1},{"x":63,"y":5,"v":2},{"x":63,"y":7,"v":1},{"x":63,"y":9,"v":3},{"x":63,"y":10,"v":2},{"x":64,"y":3,"v":1},{"x":64,"y":4,"v":3},{"x":64,"y":5,"v":1},{"x":64,"y":8,"v":1},{"x":64,"y":9,"v":2},{"x":65,"y":4,"v":1},{"x":65,"y":5,"v":2},{"x":65,"y":6,"v":1},{"x":65,"y":8,"v":2},{"x":65,"y":9,"v":3},{"x":65,"y":10,"v":1},{"x":66,"y":4,"v":2},{"x":66,"y":5,"v":1},{"x":66,"y":7,"v":1},{"x":66,"y":9,"v":2},{"x":66,"y":10,"v":2},{"x":67,"y":3,"v":1},{"x":67,"y":4,"v":1},{"x":67,"y":5,"v":3},{"x":67,"y":8,"v":2},{"x":67,"y":9,"v":1},{"x":68,"y":4,"v":2},{"x":68,"y":5,"v":2},{"x":68,"y":6,"v":1},{"x":68,"y":8,"v":1},{"x":68,"y":9,"v":4},{"x":69,"y":4,"v":1},{"x":69,"y":5,"v":1},{"x":69,"y":7,"v":1},{"x":69,"y":8,"v":2},{"x":69,"y":9,"v":2},{"x":69,"y":10,"v":1},{"x":70,"y":4,"v":3},{"x":70,"y":5,"v":2},{"x":70,"y":8,"v":3},{"x":70,"y":9,"v":2},
{"x":71,"y":3,"v":1},{"x":71,"y":4,"v":1},{"x":71,"y":5,"v":2},{"x":71,"y":6,"v":1},{"x":71,"y":8,"v":2},{"x":71,"y":9,"v":1},{"x":71,"y":10,"v":1},{"x":72,"y":4,"v":2},{"x":72,"y":5,"v":3},{"x":72,"y":7,"v":2},{"x":72,"y":8,"v":1},{"x":72,"y":9,"v":2},{"x":73,"y":4,"v":2},{"x":73,"y":5,"v":1},{"x":73,"y":6,"v":1},{"x":73,"y":8,"v":3},{"x":73,"y":9,"v":4},{"x":74,"y":3,"v":1},{"x":74,"y":4,"v":1},{"x":74,"y":5,"v":2},{"x":74,"y":7,"v":2},{"x":74,"y":8,"v":2},{"x":74,"y":10,"v":1},{"x":75,"y":4,"v":3},{"x":75,"y":5,"v":2},{"x":75,"y":6,"v":2},{"x":75,"y":7,"v":1},{"x":75,"y":8,"v":3},{"x":75,"y":9,"v":2},{"x":76,"y":4,"v":2},{"x":76,"y":5,"v":3},{"x":76,"y":6,"v":1},{"x":76,"y":7,"v":2},{"x":76,"y":8,"v":4},{"x":76,"y":9,"v":1},{"x":77,"y":4,"v":2},{"x":77,"y":5,"v":2},{"x":77,"y":6,"v":3},{"x":77,"y":7,"v":2},{"x":77,"y":8,"v":2},{"x":77,"y":9,"v":2},{"x":77,"y":10,"v":1},{"x":78,"y":3,"v":1},{"x":78,"y":4,"v":3},{"x":78,"y":5,"v":4},{"x":78,"y":6,"v":2},{"x":78,"y":7,"v":3},{"x":78,"y":8,"v":3},{"x":78,"y":9,"v":1},{"x":79,"y":4,"v":2},{"x":79,"y":5,"v":3},{"x":79,"y":6,"v":3},{"x":79,"y":7,"v":2},{"x":79,"y":8,"v":2},{"x":79,"y":9,"v":2},{"x":79,"y":10,"v":1},{"x":80,"y":4,"v":3},{"x":80,"y":5,"v":5},{"x":80,"y":6,"v":2},{"x":80,"y":7,"v":3},{"x":80,"y":8,"v":3},{"x":80,"y":9,"v":1},
{"x":81,"y":3,"v":1},{"x":81,"y":4,"v":2},{"x":81,"y":5,"v":3},{"x":81,"y":6,"v":4},{"x":81,"y":7,"v":2},{"x":81,"y":8,"v":2},{"x":81,"y":9,"v":2},{"x":82,"y":4,"v":3},{"x":82,"y":5,"v":4},{"x":82,"y":6,"v":3},{"x":82,"y":7,"v":3},{"x":82,"y":8,"v":2},{"x":82,"y":10,"v":1},{"x":83,"y":4,"v":2},{"x":83,"y":5,"v":5},{"x":83,"y":6,"v":2},{"x":83,"y":7,"v":4},{"x":83,"y":8,"v":3},{"x":83,"y":9,"v":1},{"x":84,"y":3,"v":1},{"x":84,"y":4,"v":3},{"x":84,"y":5,"v":4},{"x":84,"y":6,"v":3},{"x":84,"y":7,"v":2},{"x":84,"y":8,"v":2},{"x":84,"y":9,"v":2},{"x":85,"y":4,"v":2},{"x":85,"y":5,"v":3},{"x":85,"y":6,"v":5},{"x":85,"y":7,"v":3},{"x":85,"y":8,"v":2},{"x":86,"y":4,"v":3},{"x":86,"y":5,"v":4},{"x":86,"y":6,"v":3},{"x":86,"y":7,"v":4},{"x":86,"y":8,"v":2},{"x":86,"y":9,"v":1},{"x":87,"y":3,"v":1},{"x":87,"y":4,"v":2},{"x":87,"y":5,"v":5},{"x":87,"y":6,"v":4},{"x":87,"y":7,"v":3},{"x":87,"y":8,"v":3},{"x":88,"y":4,"v":3},{"x":88,"y":5,"v":4},{"x":88,"y":6,"v":3},{"x":88,"y":7,"v":5},{"x":88,"y":8,"v":2},{"x":88,"y":9,"v":1},{"x":89,"y":4,"v":2},{"x":89,"y":5,"v":3},{"x":89,"y":6,"v":4},{"x":89,"y":7,"v":3},{"x":89,"y":8,"v":2},{"x":89,"y":9,"v":2},{"x":90,"y":4,"v":3},{"x":90,"y":5,"v":5},{"x":90,"y":6,"v":3},{"x":90,"y":7,"v":4},{"x":90,"y":8,"v":3},
{"x":91,"y":3,"v":1},{"x":91,"y":4,"v":2},{"x":91,"y":5,"v":4},{"x":91,"y":6,"v":5},{"x":91,"y":7,"v":3},{"x":91,"y":8,"v":2},{"x":91,"y":9,"v":1},{"x":92,"y":4,"v":3},{"x":92,"y":5,"v":3},{"x":92,"y":6,"v":4},{"x":92,"y":7,"v":4},{"x":92,"y":8,"v":2},{"x":93,"y":4,"v":2},{"x":93,"y":5,"v":5},{"x":93,"y":6,"v":3},{"x":93,"y":7,"v":5},{"x":93,"y":8,"v":3},{"x":93,"y":9,"v":1},{"x":94,"y":3,"v":1},{"x":94,"y":4,"v":3},{"x":94,"y":5,"v":4},{"x":94,"y":6,"v":4},{"x":94,"y":7,"v":3},{"x":94,"y":8,"v":2},{"x":95,"y":4,"v":2},{"x":95,"y":5,"v":5},{"x":95,"y":6,"v":3},{"x":95,"y":7,"v":4},{"x":95,"y":8,"v":2},{"x":95,"y":9,"v":1},{"x":96,"y":4,"v":3},{"x":96,"y":5,"v":4},{"x":96,"y":6,"v":5},{"x":96,"y":7,"v":3},{"x":96,"y":8,"v":2},{"x":97,"y":3,"v":1},{"x":97,"y":4,"v":2},{"x":97,"y":5,"v":6},{"x":97,"y":6,"v":4},{"x":97,"y":7,"v":4},{"x":97,"y":8,"v":1},{"x":98,"y":4,"v":3},{"x":98,"y":5,"v":4},{"x":98,"y":6,"v":3},{"x":98,"y":7,"v":5},{"x":98,"y":8,"v":2},{"x":99,"y":4,"v":2},{"x":99,"y":5,"v":5},{"x":99,"y":6,"v":4},{"x":99,"y":7,"v":3},{"x":99,"y":8,"v":1},{"x":100,"y":4,"v":3},{"x":100,"y":5,"v":6},{"x":100,"y":6,"v":3},{"x":100,"y":7,"v":4},{"x":100,"y":8,"v":2},
{"x":101,"y":3,"v":1},{"x":101,"y":4,"v":2},{"x":101,"y":5,"v":4},{"x":101,"y":6,"v":5},{"x":101,"y":7,"v":3},{"x":102,"y":4,"v":3},{"x":102,"y":5,"v":5},{"x":102,"y":6,"v":4},{"x":102,"y":7,"v":3},{"x":102,"y":8,"v":1},{"x":103,"y":4,"v":2},{"x":103,"y":5,"v":6},{"x":103,"y":6,"v":3},{"x":103,"y":7,"v":4},{"x":104,"y":3,"v":1},{"x":104,"y":4,"v":3},{"x":104,"y":5,"v":5},{"x":104,"y":6,"v":6},{"x":104,"y":7,"v":2},{"x":105,"y":4,"v":2},{"x":105,"y":5,"v":4},{"x":105,"y":6,"v":5},{"x":105,"y":7,"v":3},{"x":105,"y":8,"v":1},{"x":106,"y":4,"v":3},{"x":106,"y":5,"v":6},{"x":106,"y":6,"v":4},{"x":106,"y":7,"v":2},{"x":107,"y":3,"v":2},{"x":107,"y":4,"v":2},{"x":107,"y":5,"v":5},{"x":107,"y":6,"v":6},{"x":107,"y":7,"v":3},{"x":108,"y":4,"v":3},{"x":108,"y":5,"v":5},{"x":108,"y":6,"v":4},{"x":108,"y":7,"v":2},{"x":109,"y":4,"v":2},{"x":109,"y":5,"v":7},{"x":109,"y":6,"v":3},{"x":109,"y":7,"v":3},{"x":110,"y":3,"v":1},{"x":110,"y":4,"v":3},{"x":110,"y":5,"v":5},{"x":110,"y":6,"v":5},{"x":110,"y":7,"v":2},
{"x":111,"y":4,"v":2},{"x":111,"y":5,"v":6},{"x":111,"y":6,"v":4},{"x":111,"y":7,"v":1},{"x":112,"y":3,"v":2},{"x":112,"y":4,"v":3},{"x":112,"y":5,"v":5},{"x":112,"y":6,"v":3},{"x":113,"y":4,"v":2},{"x":113,"y":5,"v":7},{"x":113,"y":6,"v":3},{"x":113,"y":7,"v":2},{"x":114,"y":3,"v":1},{"x":114,"y":4,"v":4},{"x":114,"y":5,"v":5},{"x":114,"y":6,"v":3},{"x":115,"y":4,"v":2},{"x":115,"y":5,"v":6},{"x":115,"y":6,"v":2},{"x":115,"y":7,"v":1},{"x":116,"y":3,"v":2},{"x":116,"y":4,"v":3},{"x":116,"y":5,"v":7},{"x":116,"y":6,"v":3},{"x":117,"y":4,"v":4},{"x":117,"y":5,"v":5},{"x":117,"y":6,"v":2},{"x":118,"y":3,"v":1},{"x":118,"y":4,"v":3},{"x":118,"y":5,"v":6},{"x":118,"y":6,"v":3},{"x":119,"y":4,"v":2},{"x":119,"y":5,"v":8},{"x":119,"y":6,"v":2},{"x":120,"y":3,"v":1},{"x":120,"y":4,"v":4},{"x":120,"y":5,"v":6},{"x":120,"y":6,"v":3},
{"x":121,"y":4,"v":3},{"x":121,"y":5,"v":7},{"x":121,"y":6,"v":2},{"x":122,"y":4,"v":2},{"x":122,"y":5,"v":9},{"x":122,"y":6,"v":3},{"x":123,"y":3,"v":1},{"x":123,"y":4,"v":4},{"x":123,"y":5,"v":6},{"x":123,"y":6,"v":2},{"x":124,"y":4,"v":3},{"x":124,"y":5,"v":7},{"x":124,"y":6,"v":3},{"x":125,"y":4,"v":2},{"x":125,"y":5,"v":6},{"x":125,"y":6,"v":4},{"x":126,"y":3,"v":1},{"x":126,"y":4,"v":4},{"x":126,"y":5,"v":8},{"x":126,"y":6,"v":2},{"x":127,"y":4,"v":3},{"x":127,"y":5,"v":9},{"x":127,"y":6,"v":3},{"x":128,"y":4,"v":2},{"x":128,"y":5,"v":9},{"x":128,"y":6,"v":4},{"x":129,"y":4,"v":4},{"x":129,"y":5,"v":8},{"x":129,"y":6,"v":2},{"x":130,"y":3,"v":1},{"x":130,"y":4,"v":3},{"x":130,"y":5,"v":7},{"x":130,"y":6,"v":3},
{"x":131,"y":4,"v":3},{"x":131,"y":5,"v":6},{"x":131,"y":6,"v":2},{"x":132,"y":4,"v":2},{"x":132,"y":5,"v":8},{"x":132,"y":6,"v":4},{"x":133,"y":4,"v":4},{"x":133,"y":5,"v":6},{"x":133,"y":6,"v":2},{"x":134,"y":4,"v":3},{"x":134,"y":5,"v":7},{"x":134,"y":6,"v":3},{"x":135,"y":4,"v":2},{"x":135,"y":5,"v":5},{"x":135,"y":6,"v":2},{"x":136,"y":4,"v":3},{"x":136,"y":5,"v":8},{"x":136,"y":6,"v":3},{"x":137,"y":4,"v":2},{"x":137,"y":5,"v":6},{"x":137,"y":6,"v":2},{"x":138,"y":4,"v":3},{"x":138,"y":5,"v":5},{"x":138,"y":6,"v":3},{"x":139,"y":4,"v":2},{"x":139,"y":5,"v":7},{"x":139,"y":6,"v":2},{"x":140,"y":4,"v":3},{"x":140,"y":5,"v":5},{"x":140,"y":6,"v":2},
{"x":141,"y":4,"v":2},{"x":141,"y":5,"v":6},{"x":141,"y":6,"v":3},{"x":142,"y":4,"v":3},{"x":142,"y":5,"v":5},{"x":142,"y":6,"v":2},{"x":143,"y":4,"v":2},{"x":143,"y":5,"v":4},{"x":143,"y":6,"v":2},{"x":144,"y":4,"v":2},{"x":144,"y":5,"v":6},{"x":144,"y":6,"v":1},{"x":145,"y":4,"v":3},{"x":145,"y":5,"v":4},{"x":145,"y":6,"v":2},{"x":146,"y":4,"v":2},{"x":146,"y":5,"v":5},{"x":146,"y":6,"v":1},{"x":147,"y":4,"v":1},{"x":147,"y":5,"v":4},{"x":147,"y":6,"v":2},{"x":148,"y":4,"v":2},{"x":148,"y":5,"v":5},{"x":148,"y":6,"v":1},{"x":149,"y":4,"v":2},{"x":149,"y":5,"v":4},{"x":149,"y":6,"v":2},{"x":150,"y":4,"v":1},{"x":150,"y":5,"v":5},{"x":150,"y":6,"v":1},
{"x":151,"y":4,"v":2},{"x":151,"y":5,"v":3},{"x":151,"y":6,"v":2},{"x":152,"y":4,"v":1},{"x":152,"y":5,"v":4},{"x":152,"y":6,"v":1},{"x":153,"y":4,"v":2},{"x":153,"y":5,"v":3},{"x":153,"y":6,"v":1},{"x":154,"y":4,"v":1},{"x":154,"y":5,"v":4},{"x":154,"y":6,"v":2},{"x":155,"y":4,"v":2},{"x":155,"y":5,"v":3},{"x":155,"y":6,"v":1},{"x":156,"y":4,"v":1},{"x":156,"y":5,"v":3},{"x":156,"y":6,"v":1},{"x":157,"y":4,"v":1},{"x":157,"y":5,"v":4},{"x":157,"y":6,"v":2},{"x":158,"y":4,"v":2},{"x":158,"y":5,"v":3},{"x":159,"y":4,"v":1},{"x":159,"y":5,"v":3},{"x":159,"y":6,"v":1},{"x":160,"y":4,"v":1},{"x":160,"y":5,"v":2},{"x":160,"y":6,"v":1},
{"x":161,"y":4,"v":2},{"x":161,"y":5,"v":3},{"x":162,"y":4,"v":1},{"x":162,"y":5,"v":2},{"x":162,"y":6,"v":1},{"x":163,"y":5,"v":3},{"x":163,"y":6,"v":1},{"x":164,"y":4,"v":1},{"x":164,"y":5,"v":2},{"x":165,"y":4,"v":1},{"x":165,"y":5,"v":2},{"x":165,"y":6,"v":1},{"x":166,"y":5,"v":2},{"x":166,"y":6,"v":1},{"x":167,"y":4,"v":1},{"x":167,"y":5,"v":2},{"x":168,"y":5,"v":2},{"x":168,"y":6,"v":1},{"x":169,"y":4,"v":1},{"x":169,"y":5,"v":1},{"x":170,"y":5,"v":2},{"x":171,"y":4,"v":1},{"x":171,"y":5,"v":1},{"x":172,"y":5,"v":1},{"x":172,"y":6,"v":1},{"x":173,"y":5,"v":1},{"x":174,"y":5,"v":1}
  ]},
  "mark":{"type":"square","size":31,"filled":true,"opacity":1,"strokeWidth":0},
  "encoding":{
   "x":{"field":"x","type":"quantitative","scale":{"domain":[-21.36,177.7],"nice":false,"zero":false},
    "axis":{"values":[50,100,150],"format":"d","tickSize":-5,"labelPadding":14,"labelFontSize":16,"domain":false,"labelOverlap":false,
     "title":"longest path length (2811−node final causet)","titleFontSize":16,"titleBaseline":"alphabetic","titleAlign":"center","titleX":604,"titleY":53}},
   "y":{"field":"y","type":"quantitative","scale":{"domain":[-2.9,14.9],"nice":false,"zero":false},
    "axis":{"values":[2,5,10],"format":"d","tickSize":-5,"labelPadding":11,"labelFontSize":16,"domain":false,"offset":-101,"labelOverlap":false,
     "title":["shortest path","length"],"titleFontSize":16,"titleAngle":270,"titleAlign":"center","titleBaseline":"alphabetic","titleX":-68,"titleY":49,"titleLineHeight":23}},
   "color":{"field":"v","type":"quantitative","scale":{"domain":[0,9],"range":["#ffffff","#000000"]},"legend":null}
  }},
  {"data":{"values":[{"x1":-3.2,"x2":177.7,"y1":-2.9,"y2":14.9}]},
   "mark":{"type":"rect","filled":false,"stroke":"#000","strokeWidth":1.3},
   "encoding":{"x":{"field":"x1","type":"quantitative"},"x2":{"field":"x2"},"y":{"field":"y1","type":"quantitative"},"y2":{"field":"y2"}}}
 ]
}
]
}
